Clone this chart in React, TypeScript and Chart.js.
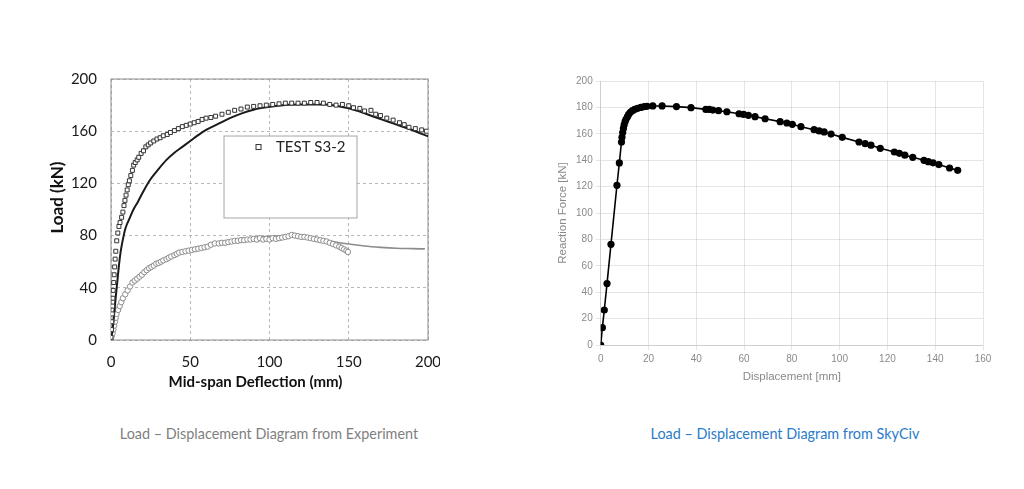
import React, { useEffect, useRef } from "react";
import { Chart, registerables } from "chart.js";

Chart.register(...registerables);

// ---------- Left chart (experiment) ----------
const expXTicks = [0, 50, 100, 150, 200];
const expYTicks = [0, 40, 80, 120, 160, 200];
const expLegendLabel = "TEST S3-2";
const expXTitle = "Mid-span Deflection (mm)";
const expYTitle = "Load (kN)";

const testX = [0, 0.3, 0.5, 0.8, 1, 1.2, 1.4, 1.7, 2, 2.3, 2.6, 3, 3.6, 4.3, 5, 5.7, 6.7, 7.5, 8.2, 8.8, 9.5, 10.2, 10.9, 11.6, 12.5, 13.5, 14.3, 15.3, 16.5, 17.5, 19, 20.5, 22, 23.5, 25, 27, 29, 31, 33, 35.5, 37.5, 40, 42.5, 45, 47.5, 50, 52.5, 55, 57.5, 60, 63, 66, 70, 74, 78, 82, 86, 90, 94, 98, 102, 106, 110, 114, 118, 122, 126, 130, 134, 138, 142, 146, 150, 153, 157, 160, 164, 167, 170, 174, 178, 182, 185, 188, 192, 196, 199];
const testY = [2, 8, 14, 20, 26, 32, 38, 44, 50, 56, 62, 68, 76, 82, 87, 90, 94, 98, 103, 107, 111, 115, 119, 122, 126, 130, 134, 136, 138, 140, 143, 145, 148, 149.5, 151, 152.5, 154, 155, 156.5, 157.5, 159, 160.5, 162, 163.5, 164.5, 165.5, 166.5, 167.5, 169, 170, 170.5, 171.5, 173, 174.5, 176, 177, 178.5, 179, 179.5, 180, 180.5, 181, 181.5, 181.5, 181.5, 181.5, 182, 182, 181.5, 180.5, 180, 180.5, 179.5, 178, 177.5, 175.5, 176, 173, 172, 170, 168.5, 166.5, 165, 163, 162, 161, 160];

const modelX = [0, 1, 2, 3, 4, 5, 6, 7, 8, 9, 10, 12, 14, 17, 20, 24.6, 30, 35, 40, 45, 50, 55, 60, 66.7, 75, 82.5, 90, 98, 105, 112, 120, 128, 135, 142, 150, 157, 165, 172, 178, 185, 192, 200];
const modelY = [0, 8, 20, 33, 45, 57, 67, 74, 80, 85, 88.5, 94, 99.6, 106, 113, 122.6, 131, 138, 143.5, 148, 152.5, 157, 161, 165, 170, 173.7, 176.5, 178.3, 179.5, 180.2, 180.5, 180.5, 180.5, 179.5, 177.5, 175, 171.5, 168.5, 166, 163, 160, 156];

const grayTestX = [0, 0.5, 1, 1.5, 2, 2.5, 3, 3.5, 4.5, 5.5, 6.5, 7.5, 9, 10.5, 12, 13.5, 15, 16.5, 18, 19.5, 21, 22.5, 24, 25.5, 27, 28.5, 30, 31.5, 33, 35, 36.5, 38, 40, 41.5, 43, 45, 47, 49, 51, 53, 55, 57, 59, 61, 63, 65.5, 68, 70, 72, 74, 76, 78, 80, 82, 84, 86, 88, 90, 92, 94, 96, 98, 100, 102, 104, 106, 108, 110, 112, 114, 116, 118, 120, 122, 124, 126, 128, 130, 132, 134, 136, 138, 140, 142, 144, 145.5, 147, 148.5, 149.5];
const grayTestY = [0, 3, 5, 8, 11, 14, 17, 20, 23, 26, 29, 32, 35, 38, 41, 44, 45.5, 47, 48.5, 50, 52, 53.5, 55, 56, 57, 58.5, 59, 60, 61, 62, 63, 64, 65, 66, 67, 67.5, 68, 68.5, 69, 69.5, 70, 70.5, 71, 71.5, 73, 74, 74, 74.5, 74.5, 75, 75.5, 76, 76, 76.5, 76.5, 77, 77, 77.5, 77, 78, 77, 77.5, 77, 78, 77.5, 78, 78.5, 79, 79.5, 80.5, 80, 79.5, 79, 79, 78.5, 78, 77.5, 77, 76.5, 76, 75.5, 74.5, 73.5, 72.5, 71.5, 70.5, 69.5, 68.5, 67.5];

const grayModelX = [0, 2, 4, 6, 8, 10, 13, 16, 20, 25, 30, 35, 40, 45, 50, 60, 70, 80, 90, 100, 110, 120, 130, 140, 150, 160, 170, 180, 190, 198];
const grayModelY = [0, 12, 22, 29, 34, 38, 43, 47, 51, 55.5, 59, 62, 65, 67.5, 69.5, 72.5, 75, 77, 78.5, 79.5, 80, 79.5, 78, 75.5, 73.5, 72, 71, 70.3, 70, 69.8];

// ---------- Right chart (SkyCiv) ----------
const skyXTicks = [0, 20, 40, 60, 80, 100, 120, 140, 160];
const skyYTicks = [0, 20, 40, 60, 80, 100, 120, 140, 160, 180, 200];

const skyX = [0, 0.7, 1.5, 2.65, 4.3, 6.8, 7.8, 8.7, 8.9, 9.2, 9.5, 9.8, 10.2, 10.6, 11.2, 11.7, 12.4, 13.3, 14.2, 15.4, 16.8, 18.2, 19.4, 21.8, 25.7, 31.7, 37.8, 44, 45.4, 46.9, 49.3, 52.8, 57.9, 59.8, 61.8, 64.6, 68.8, 75.1, 77.9, 80.2, 83.8, 89.3, 91.4, 93.5, 96.4, 101.1, 108.1, 110.7, 113.1, 117, 122.9, 125, 127.3, 130.6, 135.3, 137.1, 139.1, 141.5, 146, 149.4];
const skyY = [0, 13.1, 26.5, 46.5, 76.3, 121, 137.9, 153.8, 157.3, 160.9, 164.1, 166.7, 169.2, 171, 173, 174.7, 176.3, 177.5, 178.5, 179.3, 180, 180.6, 180.8, 181.1, 181.1, 180.6, 179.8, 178.5, 178.5, 178, 177.5, 176.7, 175.2, 174.7, 174, 173, 171.4, 169.2, 168.2, 167.2, 165.4, 163.1, 162.2, 161.4, 159.8, 157.3, 153.8, 152.5, 151.4, 149, 146.2, 145.2, 143.8, 142.2, 139.9, 138.9, 138, 136.7, 134.1, 132.3];

const captionLeft = "Load \u2013 Displacement Diagram from Experiment";
const captionRight = "Load \u2013 Displacement Diagram from SkyCiv";

const toPts = (xs: number[], ys: number[]) => xs.map((x, i) => ({ x, y: ys[i] }));
const setTicks = (vals: number[]) => (scale: any) => {
  scale.ticks = vals.map((v) => ({ value: v }));
};
const fixX = (h: number) => (s: any) => {
  s.height = h;
  s.paddingLeft = 0;
  s.paddingRight = 0;
};
const fixY = (w: number) => (s: any) => {
  s.width = w;
  s.paddingTop = 0;
  s.paddingBottom = 0;
};

const expFramePlugin = {
  id: "expFrame",
  beforeDatasetsDraw(chart: any) {
    const { ctx, chartArea } = chart;
    ctx.save();
    ctx.strokeStyle = "#8c8c8c";
    ctx.lineWidth = 1;
    ctx.strokeRect(chartArea.left, chartArea.top, chartArea.right - chartArea.left, chartArea.bottom - chartArea.top);
    ctx.restore();
  },
  afterDatasetsDraw(chart: any) {
    const { ctx, chartArea } = chart;
    const xs = chart.scales.x;
    const ys = chart.scales.y;
    const x1 = xs.getPixelForValue(71.3);
    const x2 = xs.getPixelForValue(155.2);
    const y1 = ys.getPixelForValue(156.3);
    const y2 = ys.getPixelForValue(93.5);
    ctx.save();
    ctx.fillStyle = "#ffffff";
    ctx.fillRect(x1, y1, x2 - x1, y2 - y1);
    ctx.strokeStyle = "#a6a6a6";
    ctx.lineWidth = 1;
    ctx.strokeRect(x1, y1, x2 - x1, y2 - y1);
    const my = y1 + 11;
    ctx.strokeStyle = "#333";
    ctx.strokeRect(x1 + 32, my - 2.5, 5, 5);
    ctx.fillStyle = "#222";
    ctx.font = "15px Lato";
    ctx.textBaseline = "middle";
    ctx.fillText(expLegendLabel, x1 + 52, my);

    // axis titles (offset toward the origin as in the source figure)
    ctx.fillStyle = "#111";
    ctx.textAlign = "center";
    ctx.font = "bold 15px Lato";
    ctx.fillText(expXTitle, chartArea.left + 144.5, chartArea.bottom + 42);
    ctx.translate(chartArea.left - 53, chartArea.top + 118.5);
    ctx.rotate(-Math.PI / 2);
    ctx.font = "bold 17px Lato";
    ctx.fillText(expYTitle, 0, 0);
    ctx.restore();
  },
};

function ExperimentChart() {
  const ref = useRef<HTMLCanvasElement>(null);
  useEffect(() => {
    if (!ref.current) return;
    const tickFont = { family: "Lato", size: 15 };
    const chart = new Chart(ref.current, {
      type: "scatter",
      data: {
        datasets: [
          {
            label: expLegendLabel,
            data: toPts(testX, testY),
            pointStyle: "rect",
            pointRadius: 2.8,
            pointBorderWidth: 1,
            borderColor: "#333",
            backgroundColor: "#fff",
            showLine: false,
          },
          {
            label: "Model S3-2",
            data: toPts(modelX, modelY),
            showLine: true,
            pointRadius: 0,
            borderColor: "#1a1a1a",
            borderWidth: 2,
            cubicInterpolationMode: "monotone",
          },
          {
            label: "Test (gray)",
            data: toPts(grayTestX, grayTestY),
            pointStyle: "circle",
            pointRadius: 2.7,
            pointBorderWidth: 1,
            borderColor: "#8c8c8c",
            backgroundColor: "#fff",
            showLine: false,
          },
          {
            label: "Model (gray)",
            data: toPts(grayModelX, grayModelY),
            showLine: true,
            pointRadius: 0,
            borderColor: "#8c8c8c",
            borderWidth: 1.6,
            cubicInterpolationMode: "monotone",
          },
        ],
      },
      options: {
        animation: false,
        responsive: false,
        layout: { padding: { left: 0, top: 19, right: 12, bottom: 0 } },
        plugins: { legend: { display: false }, tooltip: { enabled: false } },
        scales: {
          x: {
            type: "linear",
            min: 0,
            max: 200,
            afterBuildTicks: setTicks(expXTicks),
            afterFit: fixX(70),
            grid: { color: "#b8b8b8", drawTicks: false },
            border: { display: false, dash: [3, 3] },
            ticks: { padding: 13, font: tickFont, color: "#1a1a1a", maxRotation: 0 },
            title: { display: false, text: expXTitle },
          },
          y: {
            type: "linear",
            min: 0,
            max: 200,
            afterBuildTicks: setTicks(expYTicks),
            afterFit: fixY(71),
            grid: { color: "#b8b8b8", drawTicks: false },
            border: { display: false, dash: [3, 3] },
            ticks: { padding: 14, font: tickFont, color: "#1a1a1a" },
            title: { display: false, text: expYTitle },
          },
        },
      },
      plugins: [expFramePlugin],
    } as any);
    return () => chart.destroy();
  }, []);
  return (
    <canvas
      ref={ref}
      width={400}
      height={350}
      style={{ position: "absolute", left: 40, top: 60, width: 400, height: 350 }}
    />
  );
}

function SkyCivChart() {
  const ref = useRef<HTMLCanvasElement>(null);
  useEffect(() => {
    if (!ref.current) return;
    const tickFont = { family: "Liberation Sans", size: 10 };
    const titleFont = { family: "Liberation Sans", size: 11.5 };
    const gridColor = "rgba(0,0,0,0.1)";
    const chart = new Chart(ref.current, {
      type: "scatter",
      data: {
        datasets: [
          {
            label: "Reaction Force",
            data: toPts(skyX, skyY),
            showLine: true,
            borderColor: "#000",
            borderWidth: 1.6,
            backgroundColor: "#000",
            pointBackgroundColor: "#000",
            pointBorderColor: "#000",
            pointRadius: 3.6,
            pointBorderWidth: 0,
          },
        ],
      },
      options: {
        animation: false,
        responsive: false,
        layout: { padding: { left: 0, top: 21, right: 17, bottom: 0 } },
        plugins: { legend: { display: false }, tooltip: { enabled: false } },
        scales: {
          x: {
            type: "linear",
            min: 0,
            max: 160,
            afterBuildTicks: setTicks(skyXTicks),
            afterFit: fixX(55),
            grid: { color: gridColor, tickLength: 5 },
            border: { color: gridColor },
            ticks: { padding: 3, font: tickFont, color: "#8a8a8a", maxRotation: 0 },
            title: {
              display: true,
              text: "Displacement [mm]",
              font: titleFont,
              color: "#8a8a8a",
              padding: { top: 0, bottom: 16 },
            },
          },
          y: {
            type: "linear",
            min: 0,
            max: 200,
            afterBuildTicks: setTicks(skyYTicks),
            afterFit: fixY(60.7),
            grid: { color: gridColor, tickLength: 5 },
            border: { color: gridColor },
            ticks: { padding: 3, font: tickFont, color: "#8a8a8a" },
            title: {
              display: true,
              text: "Reaction Force [kN]",
              font: titleFont,
              color: "#8a8a8a",
              padding: { top: 16, bottom: 0 },
            },
          },
        },
      },
    } as any);
    return () => chart.destroy();
  }, []);
  return (
    <canvas
      ref={ref}
      width={460}
      height={340}
      style={{ position: "absolute", left: 540, top: 60, width: 460, height: 340 }}
    />
  );
}

const captionStyle = {
  position: "absolute" as const,
  top: 425,
  width: 400,
  textAlign: "center" as const,
  fontFamily: "Lato",
  fontSize: 14.4,
  lineHeight: "18px",
  whiteSpace: "nowrap" as const,
};

export default function App() {
  return (
    <div
      style={{
        position: "absolute",
        left: 0,
        top: 0,
        width: 1024,
        height: 489,
        background: "#fff",
        overflow: "hidden",
      }}
    >
      <ExperimentChart />
      <SkyCivChart />
      <div style={{ ...captionStyle, left: 69, color: "#7f7f7f" }}>{captionLeft}</div>
      <div style={{ ...captionStyle, left: 585, color: "#2b7bc9" }}>{captionRight}</div>
    </div>
  );
}
